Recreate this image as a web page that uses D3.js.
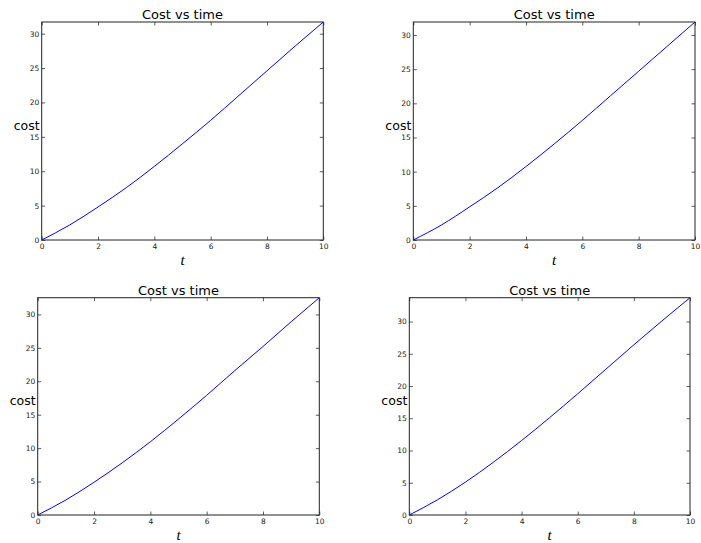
<!DOCTYPE html>
<html>
<head>
<meta charset="utf-8">
<script src="https://cdn.jsdelivr.net/npm/d3@7"></script>
<style>
  html, body { margin: 0; padding: 0; background: #fff; }
  svg { display: block; }
  .tick text { font-family: "DejaVu Sans", sans-serif; font-size: 7.5px; fill: #222; }
</style>
</head>
<body>
<svg id="chart" width="701" height="543"></svg>
<script>
// ---- data ----
const times = [0, 1, 2, 3, 4, 5, 6, 7, 8, 9, 10];
const costA = [0, 2.2, 4.8, 7.6, 10.7, 14.0, 17.4, 21.0, 24.6, 28.2, 31.7];
const costB = [0, 2.2, 4.85, 7.65, 10.75, 14.05, 17.5, 21.1, 24.7, 28.3, 31.9];
const costC = [0, 2.25, 4.9, 7.8, 10.95, 14.35, 17.9, 21.6, 25.2, 28.9, 32.5];
const costD = [0, 2.35, 5.1, 8.2, 11.55, 15.1, 18.8, 22.6, 26.4, 30.1, 33.7];
const xTicks = [0, 2, 4, 6, 8, 10];
const yTicks = [0, 5, 10, 15, 20, 25, 30];
const titleText = "Cost vs time";
const yLabelText = "cost";
const xLabelText = "t";

// ---- layout ----
const panels = [
  { values: costA, left: 41.7, right: 323.3, top: 22, bottom: 240 },
  { values: costB, left: 413.3, right: 695, top: 22, bottom: 240 },
  { values: costC, left: 37.7, right: 319.3, top: 297.7, bottom: 515 },
  { values: costD, left: 409.3, right: 690, top: 297.7, bottom: 515 }
];

const svg = d3.select("#chart");

panels.forEach(p => {
  const x = d3.scaleLinear().domain([0, 10]).range([p.left, p.right]);
  const y = d3.scaleLinear().domain([0, d3.max(p.values)]).range([p.bottom, p.top]);
  const g = svg.append("g");
  const tl = 3.5;

  // clip
  const clipId = "clip" + Math.round(p.left) + Math.round(p.top);
  svg.append("clipPath").attr("id", clipId)
    .append("rect").attr("x", p.left).attr("y", p.top)
    .attr("width", p.right - p.left).attr("height", p.bottom - p.top);

  // line
  const pts = times.map((t, i) => [t, p.values[i]]);
  g.append("path")
    .datum(pts)
    .attr("clip-path", `url(#${clipId})`)
    .attr("fill", "none")
    .attr("stroke", "#0000ff")
    .attr("stroke-width", 1)
    .attr("d", d3.line().x(d => x(d[0])).y(d => y(d[1])).curve(d3.curveMonotoneX));

  // axes
  const ax = g.append("g").attr("transform", `translate(0,${p.bottom})`)
    .call(d3.axisBottom(x).tickValues(xTicks).tickSizeInner(-tl).tickSizeOuter(0).tickPadding(3.5).tickFormat(d3.format("d")));
  const ay = g.append("g").attr("transform", `translate(${p.left},0)`)
    .call(d3.axisLeft(y).tickValues(yTicks).tickSizeInner(-tl).tickSizeOuter(0).tickPadding(2.5).tickFormat(d3.format("d")));
  const at = g.append("g").attr("transform", `translate(0,${p.top})`)
    .call(d3.axisTop(x).tickValues(xTicks).tickSizeInner(-tl).tickSizeOuter(0).tickFormat(""));
  const ar = g.append("g").attr("transform", `translate(${p.right},0)`)
    .call(d3.axisRight(y).tickValues(yTicks).tickSizeInner(-tl).tickSizeOuter(0).tickFormat(""));
  [ax, ay, at, ar].forEach(a => {
    a.select(".domain").remove();
    a.selectAll(".tick line").attr("stroke", "#333").attr("stroke-width", 0.8);
  });

  // spines
  g.append("rect")
    .attr("x", p.left).attr("y", p.top)
    .attr("width", p.right - p.left).attr("height", p.bottom - p.top)
    .attr("fill", "none").attr("stroke", "#222").attr("stroke-width", 1);

  // title
  g.append("text")
    .attr("x", (p.left + p.right) / 2).attr("y", p.top - 2.7)
    .attr("text-anchor", "middle")
    .attr("font-family", "DejaVu Sans, sans-serif").attr("font-size", 13)
    .attr("fill", "#000")
    .text(titleText);

  // y label
  g.append("text")
    .attr("x", p.left - 2).attr("y", (p.top + p.bottom) / 2 - 1.5)
    .attr("text-anchor", "end")
    .attr("font-family", "DejaVu Sans, sans-serif").attr("font-size", 12.5)
    .attr("fill", "#000")
    .text(yLabelText);

  // x label
  g.append("text")
    .attr("x", (p.left + p.right) / 2).attr("y", p.bottom + 24.5)
    .attr("text-anchor", "middle")
    .attr("font-family", "Liberation Serif, serif").attr("font-style", "italic").attr("font-size", 15)
    .attr("fill", "#000")
    .text(xLabelText);
});
</script>
</body>
</html>
